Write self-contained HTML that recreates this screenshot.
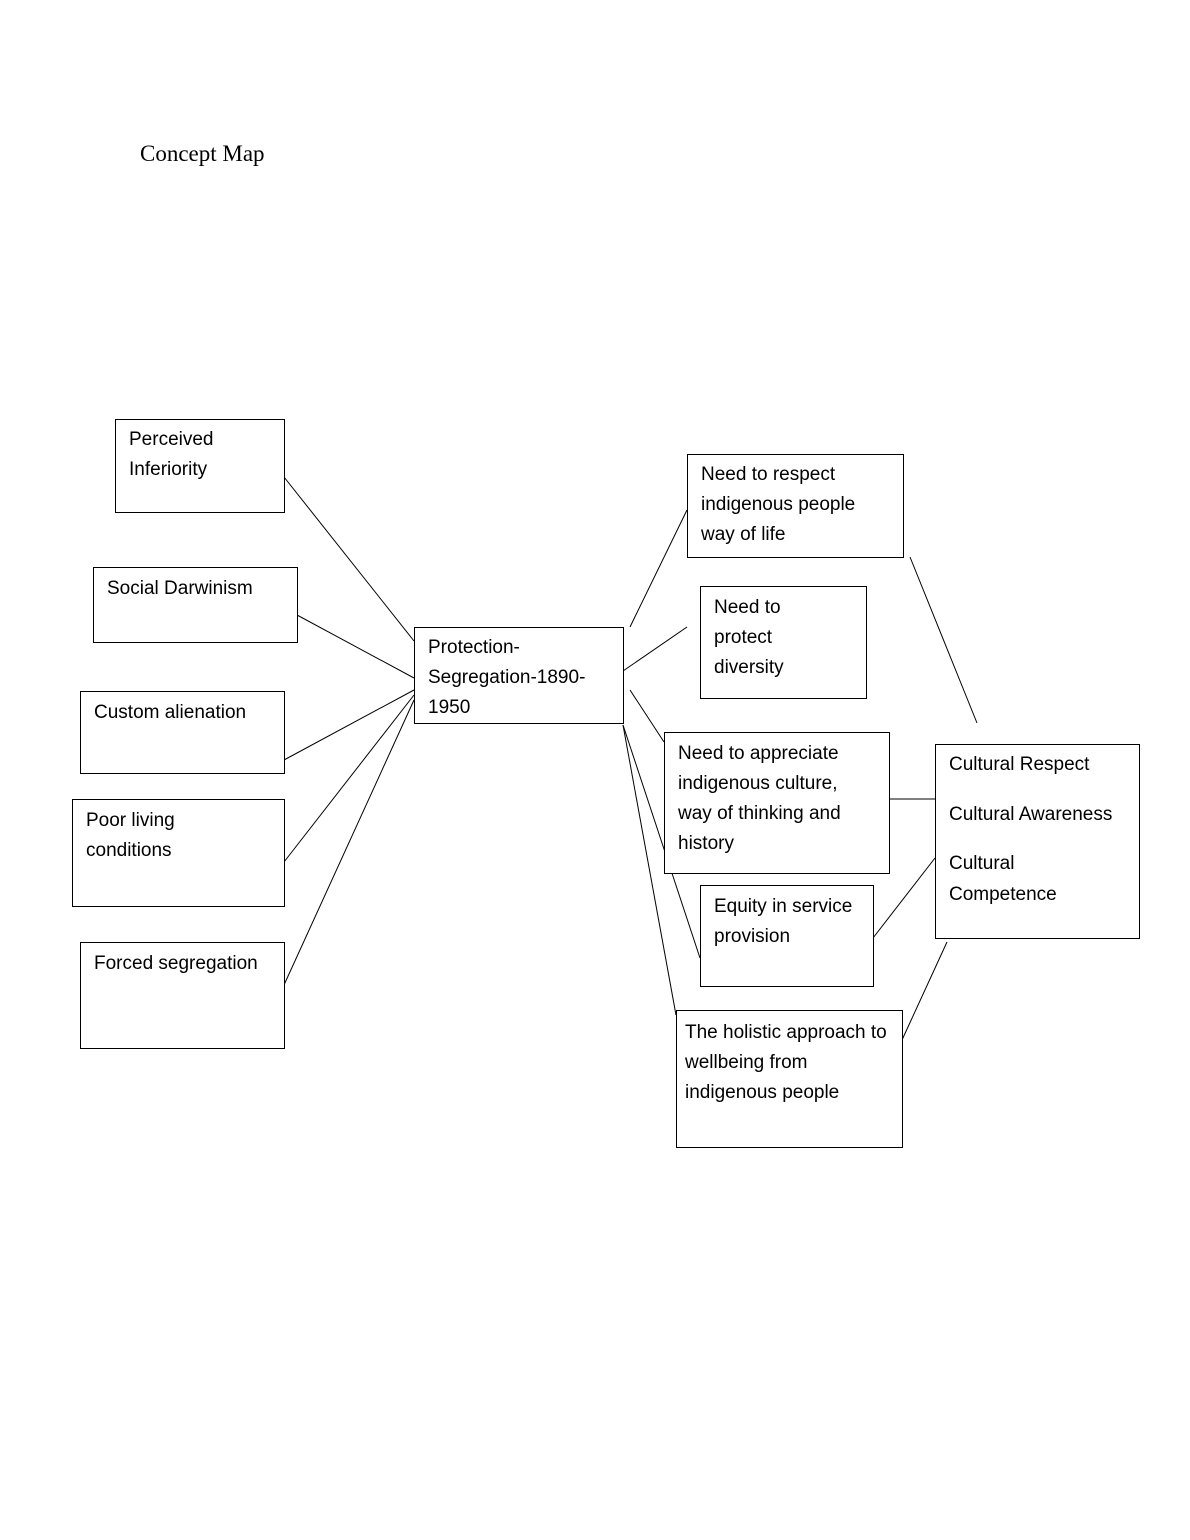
<!DOCTYPE html>
<html><head><meta charset="utf-8"><style>
html,body{margin:0;padding:0;background:#fff;}
svg{display:block;}
text{font-family:"Liberation Sans",sans-serif;font-size:19px;fill:#000;}
.t{font-family:"Liberation Serif",serif;font-size:23px;}
rect{fill:#fff;stroke:#000;stroke-width:1;}
line{stroke:#000;stroke-width:1;}
</style></head><body>
<svg width="1190" height="1540" viewBox="0 0 1190 1540">
<text class="t" x="140" y="161">Concept Map</text>
<line x1="284" y1="477" x2="414" y2="641"/>
<line x1="297" y1="615" x2="414" y2="678"/>
<line x1="284" y1="760" x2="414" y2="690"/>
<line x1="284" y1="862" x2="414" y2="695"/>
<line x1="284" y1="985" x2="414" y2="700"/>
<line x1="630" y1="627" x2="687" y2="510"/>
<line x1="623" y1="671" x2="687" y2="627"/>
<line x1="630" y1="690" x2="664" y2="742"/>
<line x1="623" y1="725" x2="700" y2="958"/>
<line x1="623" y1="725" x2="676" y2="1015"/>
<line x1="889" y1="799" x2="935" y2="799"/>
<line x1="873" y1="938" x2="935" y2="858"/>
<line x1="902" y1="1040" x2="947" y2="942"/>
<line x1="910" y1="557" x2="977" y2="723"/>
<rect x="115.5" y="419.5" width="169" height="93"/>
<text x="129" y="445">Perceived</text><text x="129" y="475">Inferiority</text>
<rect x="93.5" y="567.5" width="204" height="75"/>
<text x="107" y="594">Social Darwinism</text>
<rect x="80.5" y="691.5" width="204" height="82"/>
<text x="94" y="718">Custom alienation</text>
<rect x="72.5" y="799.5" width="212" height="107"/>
<text x="86" y="826">Poor living</text><text x="86" y="856">conditions</text>
<rect x="80.5" y="942.5" width="204" height="106"/>
<text x="94" y="969">Forced segregation</text>
<rect x="414.5" y="627.5" width="209" height="96"/>
<text x="428" y="653">Protection-</text><text x="428" y="683">Segregation-1890-</text><text x="428" y="713">1950</text>
<rect x="687.5" y="454.5" width="216" height="103"/>
<text x="701" y="480">Need to respect</text><text x="701" y="510">indigenous people</text><text x="701" y="540">way of life</text>
<rect x="700.5" y="586.5" width="166" height="112"/>
<text x="714" y="613">Need to</text><text x="714" y="643">protect</text><text x="714" y="673">diversity</text>
<rect x="664.5" y="732.5" width="225" height="141"/>
<text x="678" y="759">Need to appreciate</text><text x="678" y="789">indigenous culture,</text><text x="678" y="819">way of thinking and</text><text x="678" y="849">history</text>
<rect x="935.5" y="744.5" width="204" height="194"/>
<text x="949" y="770">Cultural Respect</text><text x="949" y="820">Cultural Awareness</text><text x="949" y="869">Cultural</text><text x="949" y="900">Competence</text>
<rect x="700.5" y="885.5" width="173" height="101"/>
<text x="714" y="912">Equity in service</text><text x="714" y="942">provision</text>
<rect x="676.5" y="1010.5" width="226" height="137"/>
<text x="685" y="1038">The holistic approach to</text><text x="685" y="1068">wellbeing from</text><text x="685" y="1098">indigenous people</text>
</svg>
</body></html>
